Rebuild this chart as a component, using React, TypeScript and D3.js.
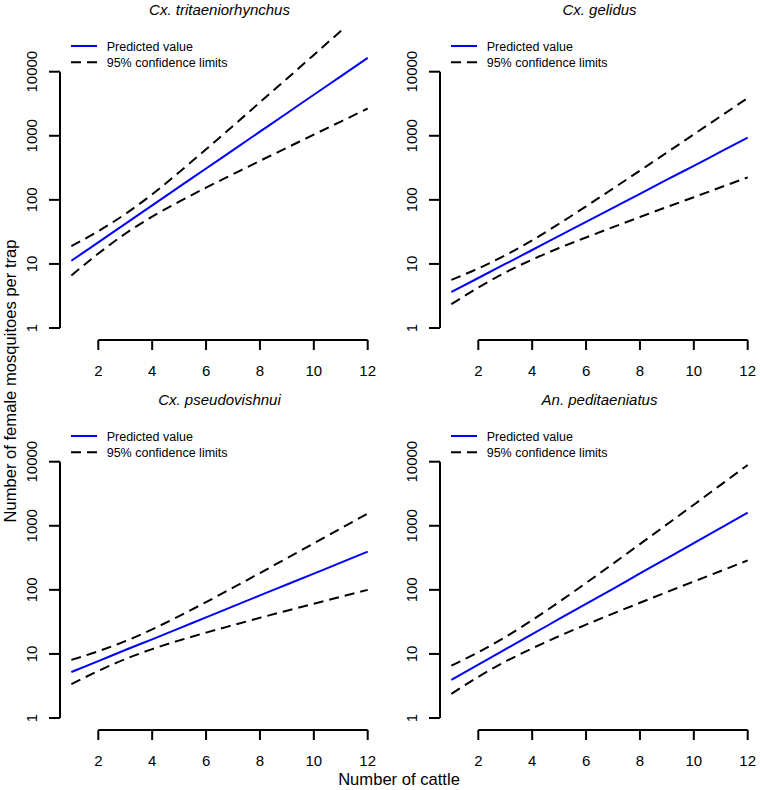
import React from "react";
import * as d3 from "d3";

const cattle = [1, 2, 3, 4, 5, 6, 7, 8, 9, 10, 11, 12];
const species = ["Cx. tritaeniorhynchus", "Cx. gelidus", "Cx. pseudovishnui", "An. peditaeniatus"];

const predTri = [11.2, 21.7, 42.2, 81.8, 159, 308, 598, 1160, 2250, 4370, 8470, 16440];
const upperTri = [19.0, 32.5, 60.0, 122, 270, 615, 1426, 3327, 7780, 18280, 43050, 101400];
const lowerTri = [6.59, 14.5, 29.6, 54.7, 93.5, 155, 251, 406, 650, 1042, 1667, 2667];

const predGel = [3.64, 6.03, 9.98, 16.5, 27.4, 45.3, 75.0, 124, 206, 340, 564, 933];
const upperGel = [5.64, 8.51, 13.6, 23.3, 42.4, 79.1, 150, 286, 547, 1052, 2023, 3890];
const lowerGel = [2.35, 4.27, 7.33, 11.7, 17.7, 25.9, 37.5, 54.0, 77.3, 110, 157, 224];

const predPse = [5.21, 7.73, 11.5, 16.9, 25.1, 37.2, 55.2, 81.8, 121, 179, 266, 394];
const upperPse = [8.07, 11.0, 15.8, 24.2, 38.9, 64.4, 108, 183, 312, 531, 908, 1552];
const lowerPse = [3.37, 5.42, 8.3, 11.9, 16.2, 21.5, 28.1, 36.6, 47.2, 60.7, 78.0, 100];

const predPed = [3.95, 6.82, 11.8, 20.3, 35.1, 60.5, 104, 180, 311, 537, 927, 1600];
const upperPed = [6.56, 10.6, 18.3, 33.7, 64.9, 128, 256, 518, 1050, 2133, 4355, 8890];
const lowerPed = [2.38, 4.39, 7.57, 12.2, 19.0, 28.6, 42.6, 62.8, 92.3, 135, 197, 288];

const xTicks = [2, 4, 6, 8, 10, 12];
const yTicks = [1, 10, 100, 1000, 10000];
const legendLabels = ["Predicted value", "95% confidence limits"];
const xAxisTitle = "Number of cattle";
const yAxisTitle = "Number of female mosquitoes per trap";

const panels = [
  { title: species[0], pred: predTri, upper: upperTri, lower: lowerTri, dx: 0, dy: 0 },
  { title: species[1], pred: predGel, upper: upperGel, lower: lowerGel, dx: 380, dy: 0 },
  { title: species[2], pred: predPse, upper: upperPse, lower: lowerPse, dx: 0, dy: 390 },
  { title: species[3], pred: predPed, upper: upperPed, lower: lowerPed, dx: 380, dy: 390 },
];

const FONT = "'Liberation Sans', Arial, Helvetica, sans-serif";

const x = d3.scaleLinear().domain([2, 12]).range([98.3, 367.7]);
const y = d3.scaleLog().domain([1, 10000]).range([328, 71.7]);

function Panel({ p, idx }: { p: any; idx: number }) {
  const line = d3
    .line<number>()
    .x((_, i) => x(cattle[i]))
    .y((v) => y(v))
    .curve(d3.curveMonotoneX);
  const clipId = `clip-${idx}`;
  const xAxisY = 340;
  const yAxisX = 60;
  return (
    <g transform={`translate(${p.dx},${p.dy})`}>
      <defs>
        <clipPath id={clipId}>
          <rect x={55} y={29} width={330} height={315} />
        </clipPath>
      </defs>
      <text x={219.5} y={15} textAnchor="middle" fontStyle="italic" fontSize={15} fontFamily={FONT}>
        {p.title}
      </text>
      <g clipPath={`url(#${clipId})`}>
        <path d={line(p.upper) || ""} fill="none" stroke="#000" strokeWidth={2} strokeDasharray="10,6" />
        <path d={line(p.lower) || ""} fill="none" stroke="#000" strokeWidth={2} strokeDasharray="10,6" />
        <path d={line(p.pred) || ""} fill="none" stroke="#0000ff" strokeWidth={2} />
      </g>
      <line x1={yAxisX} x2={yAxisX} y1={y(1)} y2={y(10000)} stroke="#000" strokeWidth={2} />
      {yTicks.map((t) => (
        <g key={t}>
          <line x1={yAxisX - 11} x2={yAxisX} y1={y(t)} y2={y(t)} stroke="#000" strokeWidth={2} />
          <text
            transform={`translate(37,${y(t)}) rotate(-90)`}
            textAnchor="middle"
            fontSize={15}
            fontFamily={FONT}
          >
            {String(t)}
          </text>
        </g>
      ))}
      <line x1={x(2)} x2={x(12)} y1={xAxisY} y2={xAxisY} stroke="#000" strokeWidth={2} />
      {xTicks.map((t) => (
        <g key={t}>
          <line x1={x(t)} x2={x(t)} y1={xAxisY} y2={xAxisY + 10} stroke="#000" strokeWidth={2} />
          <text x={x(t)} y={375.5} textAnchor="middle" fontSize={15} fontFamily={FONT}>
            {String(t)}
          </text>
        </g>
      ))}
      <line x1={71} x2={97} y1={46} y2={46} stroke="#0000ff" strokeWidth={2} />
      <text x={106.7} y={50.5} fontSize={12.5} fontFamily={FONT}>
        {legendLabels[0]}
      </text>
      <line x1={71} x2={97} y1={62.3} y2={62.3} stroke="#000" strokeWidth={2} strokeDasharray="10,6" />
      <text x={106.7} y={66.8} fontSize={12.5} fontFamily={FONT}>
        {legendLabels[1]}
      </text>
    </g>
  );
}

export default function App() {
  return (
    <svg
      width={760}
      height={790}
      viewBox="0 0 760 790"
      style={{ position: "absolute", left: 0, top: 0, background: "#fff" }}
    >
      <rect width={760} height={790} fill="#fff" />
      {panels.map((p, i) => (
        <Panel key={i} p={p} idx={i} />
      ))}
      <text x={399} y={785} textAnchor="middle" fontSize={16.6} fontFamily={FONT}>
        {xAxisTitle}
      </text>
      <text transform={`translate(16,381) rotate(-90)`} textAnchor="middle" fontSize={16.6} fontFamily={FONT}>
        {yAxisTitle}
      </text>
    </svg>
  );
}
